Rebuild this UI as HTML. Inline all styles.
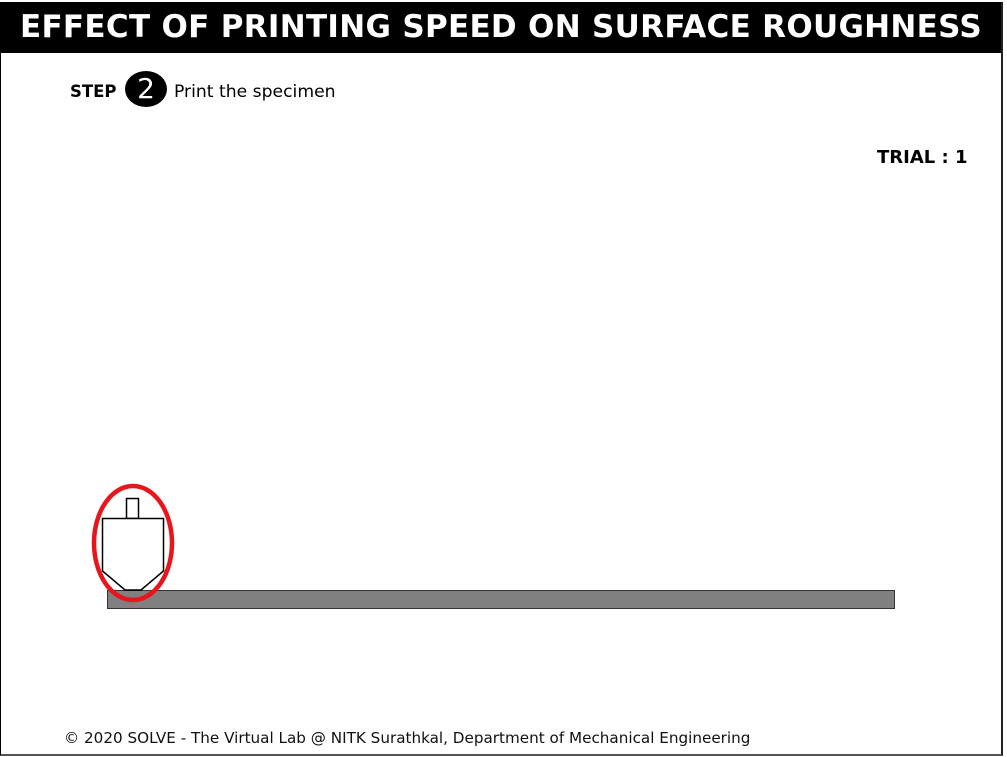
<!DOCTYPE html>
<html><head><meta charset="utf-8"><style>
body{margin:0;width:1007px;height:757px;background:#fff;font-family:"DejaVu Sans","Liberation Sans",sans-serif;position:relative;overflow:hidden}
#frame{position:absolute;left:0;top:2px;width:1000px;height:751px;border:1px solid #000;border-bottom:2px solid #555;border-right:2px solid #222}
#hdr{position:absolute;left:1px;top:3px;width:1000px;height:50px;background:#000;color:#fff;font-weight:bold;font-size:31px;line-height:48px;text-align:center;letter-spacing:0.3px;white-space:nowrap}
.t{position:absolute;color:#000;white-space:nowrap}
</style></head><body>
<div id="frame"></div>
<div id="hdr">EFFECT OF PRINTING SPEED ON SURFACE ROUGHNESS</div>
<div class="t" style="left:70px;top:82px;font-size:16.5px;font-weight:bold">STEP</div>
<div style="position:absolute;left:125px;top:71px;width:42px;height:36px;border-radius:50%;background:#000;color:#fff;font-size:28px;line-height:36px;text-align:center">2</div>
<div class="t" style="left:174px;top:82px;font-size:17.2px">Print the specimen</div>
<div class="t" style="left:877px;top:147px;font-size:18px;font-weight:bold">TRIAL : 1</div>
<svg style="position:absolute;left:0;top:0" width="1007" height="757">
<rect x="107.5" y="590.5" width="787" height="18" fill="#808080" stroke="#333"/>
<rect x="126.5" y="498.5" width="12" height="20" fill="#fff" stroke="#000" stroke-width="1.5"/>
<polygon points="102.5,518.5 163.5,518.5 163.5,571 141,590 125,590 102.5,571" fill="#fff" stroke="#000" stroke-width="1.5"/>
<ellipse cx="133" cy="543" rx="39" ry="57" fill="none" stroke="#e8151c" stroke-width="4.5"/>
</svg>
<div class="t" style="left:64px;top:729px;font-size:15.2px;color:#111">© 2020 SOLVE - The Virtual Lab @ NITK Surathkal, Department of Mechanical Engineering</div>
</body></html>
